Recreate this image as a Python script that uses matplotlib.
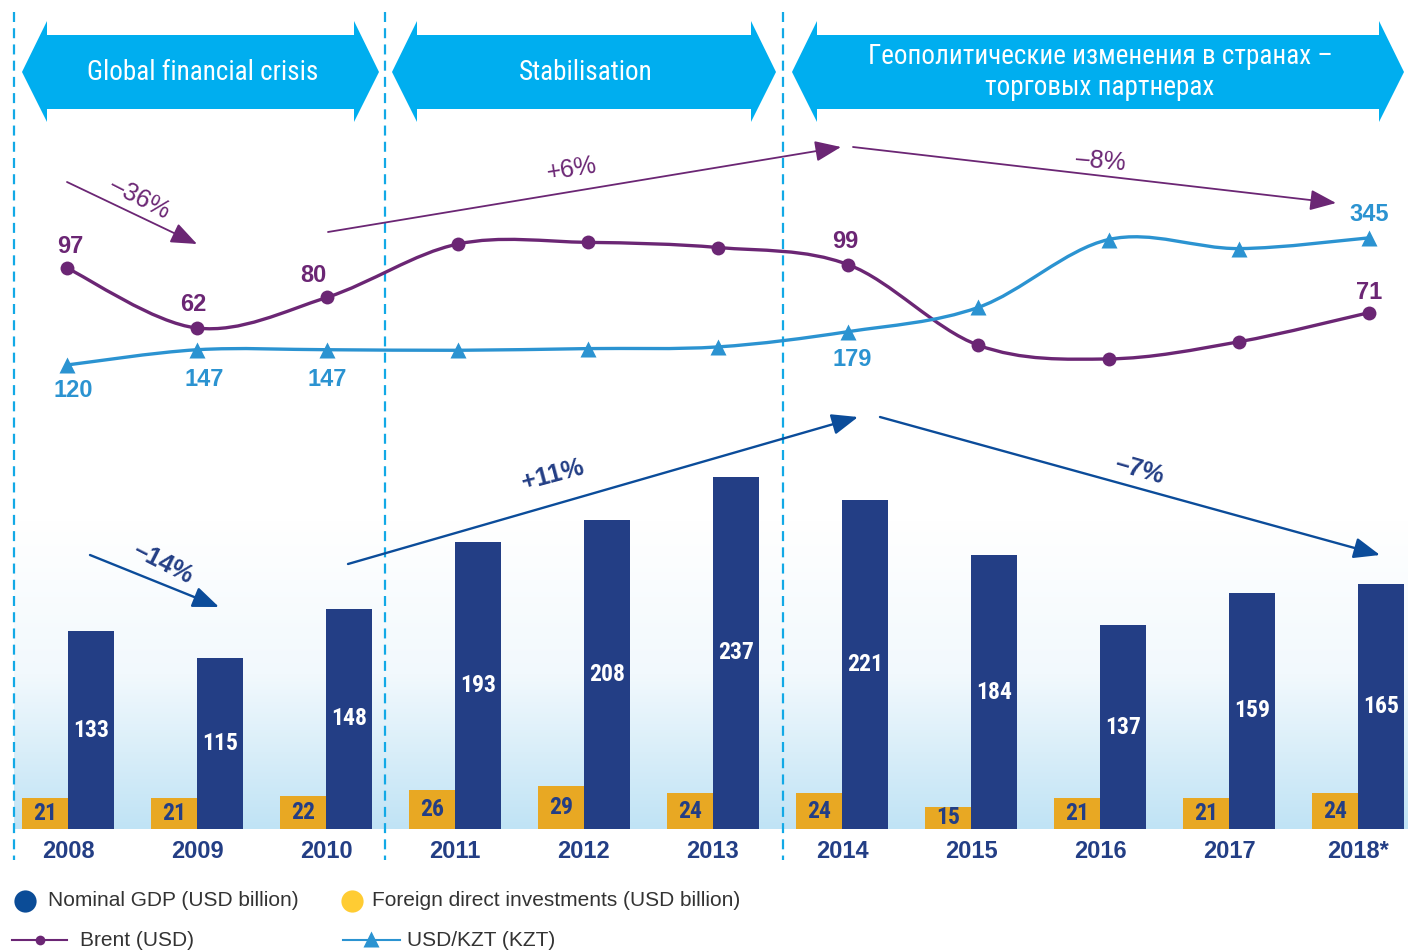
import numpy as np
import matplotlib
matplotlib.use('Agg')
import matplotlib.pyplot as plt
from matplotlib.path import Path
from matplotlib.patches import PathPatch, Polygon
from matplotlib.colors import LinearSegmentedColormap
from matplotlib import font_manager

# data
years = ['2008', '2009', '2010', '2011', '2012', '2013', '2014', '2015', '2016', '2017', '2018*']
gdp = [133, 115, 148, 193, 208, 237, 221, 184, 137, 159, 165]
fdi = [21, 21, 22, 26, 29, 24, 24, 15, 21, 21, 24]
brent = [97, 62, 80, 111, 112, 109, 99, 52, 44, 54, 71]
usd_kzt = [120, 147, 147, 146, 149, 152, 179, 222, 342, 326, 345]
labeled = [0, 1, 2, 6, 10]
periods = ['Global financial crisis', 'Stabilisation',
           'Геополитические изменения в странах –\nторговых партнерах']

names = {f.name for f in font_manager.fontManager.ttflist}
narrow = next(n for n in ['Liberation Sans Narrow', 'Roboto Condensed', 'DejaVu Sans'] if n in names)
plt.rcParams['font.family'] = ['Liberation Sans', 'DejaVu Sans']

navy = '#233E85'
gold = '#E8A823'
purple = '#6B2674'
kblue = '#2B93D1'
cyan = '#00AEEF'
arrow_blue = '#0B4C9A'

W, H = 1408, 952
fig = plt.figure(figsize=(W / 100, H / 100), dpi=100)

# background: gradient + period separators
bg = fig.add_axes([0, 0, 1, 1], zorder=0)
bg.set_xlim(0, W); bg.set_ylim(H, 0); bg.axis('off')
cmap = LinearSegmentedColormap.from_list('g', ['#FFFFFF', '#F2F9FD', '#C0E3F5'])
bg.imshow(np.linspace(0, 1, 256).reshape(-1, 1), extent=[14, W, 829, 520],
          cmap=cmap, aspect='auto')
bg.vlines([14, 385, 783], 12, 860, colors='#12A9E6', lw=1.6, linestyles=(0, (4.5, 2.8)))

# bars
ax = fig.add_axes([0, 123 / H, 1, 829 / H], zorder=1)
ax.patch.set_alpha(0)
x = np.arange(len(years))
w = 46 / 129
ax.bar(x - w / 2, fdi, w, color=gold)
ax.bar(x + w / 2, gdp, w, color=navy)
for i in x:
    ax.text(i + w / 2, gdp[i] / 2, str(gdp[i]), ha='center', va='center', color='white',
            fontsize=17, fontweight='bold', family=[narrow, 'DejaVu Sans'], fontstretch='condensed')
    ax.text(i - w / 2, fdi[i] / 2, str(fdi[i]), ha='center', va='center', color=navy,
            fontsize=17, fontweight='bold', family=[narrow, 'DejaVu Sans'], fontstretch='condensed')
ax.set_xlim(-68 / 129, (W - 68) / 129)
ax.set_ylim(0, 829 / 1.487)
ax.set_xticks(x, years)
ax.tick_params(axis='x', length=0, pad=8, labelsize=17, labelcolor=navy)
for t in ax.get_xticklabels():
    t.set_fontweight('bold')
ax.set_yticks([])
for s in ax.spines.values():
    s.set_visible(False)


def smooth_path(xs, ys):
    pts = np.column_stack([xs, ys]).astype(float)
    n = len(pts)
    verts = [pts[0]]
    codes = [Path.MOVETO]
    for i in range(n - 1):
        p0 = pts[max(i - 1, 0)]; p1 = pts[i]; p2 = pts[i + 1]; p3 = pts[min(i + 2, n - 1)]
        verts += [p1 + (p2 - p0) / 6, p2 - (p3 - p1) / 6, p2]
        codes += [Path.CURVE4] * 3
    return Path(verts, codes)


# lines: Brent and USD/KZT
lx = fig.add_axes([0, 0, 1, 1], zorder=2)
lx.patch.set_alpha(0)
lx.set_xlim(-67 / 130.2, (W - 67) / 130.2)
lx.set_ylim(-302, 253.4)
lx.axis('off')
kx = lx.twinx()
kx.set_ylim(-919, 766)
kx.axis('off')

kx.add_patch(PathPatch(smooth_path(x, usd_kzt), fill=False, ec=kblue, lw=2.4))
kx.plot(x, usd_kzt, '^', color=kblue, ms=11.5, mec='none')
lx.add_patch(PathPatch(smooth_path(x, brent), fill=False, ec=purple, lw=2.4))
lx.plot(x, brent, 'o', color=purple, ms=10, mec='none')

brent_off = {0: (3, 22), 1: (-4, 24), 2: (-14, 22), 6: (-3, 23), 10: (0, 20)}
kzt_off = {0: (6, -26), 1: (7, -30), 2: (0, -30), 6: (4, -28), 10: (0, 23)}
for i in labeled:
    lx.annotate(str(brent[i]), (x[i], brent[i]), xytext=brent_off[i], textcoords='offset pixels',
                ha='center', va='center', color=purple, fontsize=17, fontweight='bold')
    kx.annotate(str(usd_kzt[i]), (x[i], usd_kzt[i]), xytext=kzt_off[i], textcoords='offset pixels',
                ha='center', va='center', color=kblue, fontsize=17, fontweight='bold')

# overlay: banners, trend arrows, legend
ov = fig.add_axes([0, 0, 1, 1], zorder=3)
ov.set_xlim(0, W); ov.set_ylim(H, 0); ov.axis('off')
ov.patch.set_alpha(0)

for (x0, x1), label in zip([(22, 379), (392, 776), (792, 1404)], periods):
    d = 25
    pts = [(x0, 72), (x0 + d, 21), (x0 + d, 35), (x1 - d, 35), (x1 - d, 21), (x1, 72),
           (x1 - d, 122), (x1 - d, 109), (x0 + d, 109), (x0 + d, 122)]
    ov.add_patch(Polygon(pts, closed=True, fc=cyan, ec='none'))
    ov.text((x0 + x1) / 2 + 2, 72, label, ha='center', va='center', color='white', fontsize=19.5,
            linespacing=1.2, family=[narrow, 'DejaVu Sans'], fontstretch='condensed')


def trend(p0, p1, color, lw, label, pos, rot, bold):
    ov.annotate('', xy=p1, xytext=p0,
                arrowprops=dict(arrowstyle='-|>,head_length=0.8,head_width=0.32', color=color,
                                lw=lw, mutation_scale=20, shrinkA=0, shrinkB=0))
    ov.text(pos[0], pos[1], label, rotation=rot, ha='center', va='center', rotation_mode='anchor',
            color=purple if color == purple else navy, fontsize=18,
            fontweight='bold' if bold else 'normal')


trend((67, 182), (197, 244), purple, 1.3, '–36%', (140, 198), -27, False)
trend((328, 232), (841, 147), purple, 1.3, '+6%', (572, 169), 9, False)
trend((853, 147), (1336, 203), purple, 1.3, '–8%', (1101, 161), -5, False)
trend((90, 555), (219, 607), arrow_blue, 1.7, '–14%', (163, 563), -27, True)
trend((348, 564), (858, 417), arrow_blue, 1.7, '+11%', (553, 475), 15, True)
trend((880, 417), (1380, 555), arrow_blue, 1.7, '–7%', (1139, 470), -16, True)

txt = '#333333'
ov.plot([25], [901], 'o', color='#0B4C97', ms=16, mec='none')
ov.text(48, 901, 'Nominal GDP (USD billion)', va='center', fontsize=15, color=txt)
ov.plot([352], [901], 'o', color='#FFCC33', ms=16, mec='none')
ov.text(372, 901, 'Foreign direct investments (USD billion)', va='center', fontsize=15, color=txt)
ov.plot([12, 67], [940, 940], color=purple, lw=1.5)
ov.plot([40], [940], 'o', color=purple, ms=7, mec='none')
ov.text(80, 940, 'Brent (USD)', va='center', fontsize=15, color=txt)
ov.plot([343, 400], [940, 940], color=kblue, lw=1.5)
ov.plot([371], [939], '^', color=kblue, ms=11, mec='none')
ov.text(407, 940, 'USD/KZT (KZT)', va='center', fontsize=15, color=txt)

fig.savefig('out.png', dpi=100)
